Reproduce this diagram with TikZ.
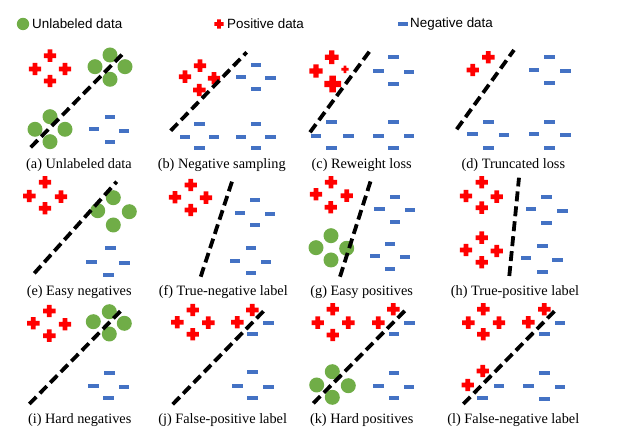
\documentclass[tikz,border=0pt]{standalone}
\usepackage{fontspec}
\newfontfamily\legendfont{Liberation Sans}
\newfontfamily\captionfont{Liberation Serif}
\usetikzlibrary{positioning}

\definecolor{posred}{RGB}{255,0,0}
\definecolor{negblue}{RGB}{68,114,196}
\definecolor{unlabgreen}{RGB}{112,173,71}

% plus, minus and circle marks, [scale]{x}{y}
\newcommand{\plusmark}[3][1]{\fill[posred,shift={(#2,#3)},scale=#1] (-6.2,-2.4) rectangle (6.2,2.4) (-2.4,-6.2) rectangle (2.4,6.2);}
\newcommand{\minusmark}[3][1]{\fill[negblue,shift={(#2,#3)},scale=#1] (-5.3,-1.9) rectangle (5.3,1.9);}
\newcommand{\unlabmark}[2]{\fill[unlabgreen] (#1,#2) circle (7.5);}

\begin{document}
\begin{tikzpicture}[x=1pt,y=-1pt]
\tikzstyle{sepline} = [line width=3.8pt, dash pattern=on 10pt off 5pt]
\tikzstyle{caption} = [font=\captionfont\fontsize{14.3}{16}\selectfont, inner sep=0pt]
\tikzstyle{legend} = [font=\legendfont\fontsize{13.4}{15}\selectfont, inner sep=0pt, anchor=west]

\useasboundingbox (0,0) rectangle (622,443);

% legend
\fill[unlabgreen] (23,24) circle (6.2);
\node [legend] (unlab) at (32,24) {Unlabeled data};
\plusmark[0.75]{219}{24}
\node [legend] (pos) at (227,24) {Positive data};
\minusmark[0.9]{403}{24}
\node [legend] (neg) at (410,24) {Negative data};

% (a)
\foreach \x/\y in {50/55.7, 35/69, 65/69, 50/81} {\plusmark{\x}{\y}}
\foreach \x/\y in {110/55, 95/66.7, 125/66.7, 110/79.3, 50/116.7, 35/129.3, 65/129.3, 50/141.7} {\unlabmark{\x}{\y}}
\foreach \x/\y in {110/117.3, 94/129.3, 124/130.7, 110/142} {\minusmark{\x}{\y}}
\draw [sepline] (30.7,147.3) -- (123.3,53.3);
\node [caption] (capa) at (79,165) {(a) Unlabeled data};

% (b)
\foreach \x/\y in {200/65.7, 185/76.7, 214/78.3, 199.3/90} {\plusmark{\x}{\y}}
\foreach \x/\y in {256/65, 241/76.7, 270.7/77.7, 256/89.3, 199.3/124, 185/136.7, 214/137.3, 199.3/147.7, 256/124, 241/136.7, 270.7/137.3, 256/147.7} {\minusmark{\x}{\y}}
\draw [sepline] (170.7,130.7) -- (246.7,52.3);
\node [caption] (capb) at (221.7,165) {(b) Negative sampling};

% (c)
\plusmark[1.1]{331.7}{57.3}
\plusmark[1.05]{316}{71}
\plusmark[0.6]{345}{69.3}
\plusmark[1.35]{332.7}{84}
\foreach \x/\y in {393.3/56.7, 378.3/70.7, 409/71.7, 393.3/84, 331.7/121.7, 316/135.7, 348.3/136, 331.7/147.7, 393.3/121.7, 378.3/135.7, 409/136, 393.3/147.7} {\minusmark{\x}{\y}}
\draw [sepline] (310,132.3) -- (369.3,51.7);
\node [caption] (capc) at (361.7,165) {(c) Reweight loss};

% (d)
\foreach \x/\y in {488.3/57.3, 472.7/70} {\plusmark{\x}{\y}}
\foreach \x/\y in {549.3/56.7, 534/70, 565.7/70.7, 549.3/82.7, 488.3/121.7, 472.7/134.3, 504/135, 488.3/147.7, 549.3/121.7, 534/134.3, 565.7/135, 549.3/147.7} {\minusmark{\x}{\y}}
\draw [sepline] (456.7,129.3) -- (514,50);
\node [caption] (capd) at (513.3,165) {(d) Truncated loss};

% (e)
\foreach \x/\y in {45/182.3, 29.3/196, 61/196.7, 45/208.3} {\plusmark{\x}{\y}}
\foreach \x/\y in {113.3/197.7, 97.7/210.7, 129.3/211.7, 113.3/225} {\unlabmark{\x}{\y}}
\foreach \x/\y in {110.7/247.7, 91.7/262, 124.3/262.7, 108.7/275} {\minusmark{\x}{\y}}
\draw [sepline] (34.3,273.3) -- (116.7,181.7);
\node [caption] (cape) at (79.2,291.7) {(e) Easy negatives};

% (f)
\foreach \x/\y in {190.7/185, 175/197.3, 206/197.7, 190.7/210} {\plusmark{\x}{\y}}
\foreach \x/\y in {255/200, 240/212.7, 270/214, 255/225, 251/247.7, 235/260.7, 266/261.7, 251/272.7} {\minusmark{\x}{\y}}
\draw [sepline] (200.7,276.7) -- (233.3,177.7);
\node [caption] (capf) at (223.3,291.7) {(f) True-negative label};

% (g)
\foreach \x/\y in {331/182.3, 316/194.3, 346.7/195.7, 330.7/207.3} {\plusmark{\x}{\y}}
\foreach \x/\y in {395/197.3, 379.3/209.3, 410/210, 395/221.7, 390/244.3, 375/256, 405/257.3, 390/268.7} {\minusmark{\x}{\y}}
\foreach \x/\y in {331/235.7, 316/247.7, 346.7/248.3, 331/260} {\unlabmark{\x}{\y}}
\draw [sepline] (340,276.7) -- (371.7,177.7);
\node [caption] (capg) at (361.7,291.7) {(g) Easy positives};

% (h)
\foreach \x/\y in {481.7/182.3, 466/196, 496.7/196.7, 481.7/207.7, 481.7/237.7, 466/250, 496.7/251, 481.7/262.3} {\plusmark{\x}{\y}}
\foreach \x/\y in {546.7/197.3, 531/209.3, 562.3/210.7, 546.7/223, 542.3/245.7, 526/258.3, 557.3/260, 542.3/271.7} {\minusmark{\x}{\y}}
\draw [sepline] (509.3,276) -- (519,177.7);
\node [caption] (caph) at (515,291.7) {(h) True-positive label};

% (i)
\foreach \x/\y in {49.3/311, 33.3/323.3, 65/324.3, 49.3/335.7} {\plusmark{\x}{\y}}
\foreach \x/\y in {109.3/311.7, 93.3/321.7, 124.3/323.3, 109.3/334} {\unlabmark{\x}{\y}}
\foreach \x/\y in {109.3/372.7, 93.3/386, 124/387.3, 108.7/398.3} {\minusmark{\x}{\y}}
\draw [sepline] (29.3,404) -- (123.3,308.3);
\node [caption] (capi) at (79.7,420) {(i) Hard negatives};

% (j)
\foreach \x/\y in {192.7/310, 177.3/322.3, 208.3/322.7, 192.7/334.3, 252.3/310, 237.3/322.3} {\plusmark{\x}{\y}}
\foreach \x/\y in {268.3/322.7, 252.7/334.3, 252.7/372.3, 237.3/386, 268.3/386.7, 252.7/398.3} {\minusmark{\x}{\y}}
\draw [sepline, shorten >=1.2pt] (172.7,404.3) -- (267.3,307.3);
\node [caption] (capj) at (222.7,420) {(j) False-positive label};

% (k)
\foreach \x/\y in {332.7/309.3, 317.7/322.7, 348.3/322.7, 332.7/335, 393.3/309.3, 378.3/322.7} {\plusmark{\x}{\y}}
\foreach \x/\y in {409.3/322.7, 394/334.3, 394/372.7, 378.3/385.7, 409/387.3, 394/398.3} {\minusmark{\x}{\y}}
\foreach \x/\y in {332.3/371.7, 316.7/385, 348.3/385.7, 332.3/397.3} {\unlabmark{\x}{\y}}
\draw [sepline, shorten >=1.2pt] (313.3,403.3) -- (408.3,307.3);
\node [caption] (capk) at (361.7,420) {(k) Hard positives};

% (l)
\foreach \x/\y in {483.3/309.3, 468.3/322.7, 499/322.7, 483.3/334.3, 544.3/309.3, 528.3/322.3, 482.7/371, 467.7/385} {\plusmark{\x}{\y}}
\foreach \x/\y in {560/322.7, 544.3/334.3, 499/386, 482.7/397.7, 544.3/372.7, 528.3/386, 560/387.3, 544.3/399} {\minusmark{\x}{\y}}
\draw [sepline, shorten >=1.2pt] (463.3,404) -- (558.3,307.3);
\node [caption] (capl) at (513.3,420) {(l) False-negative label};

\end{tikzpicture}
\end{document}
